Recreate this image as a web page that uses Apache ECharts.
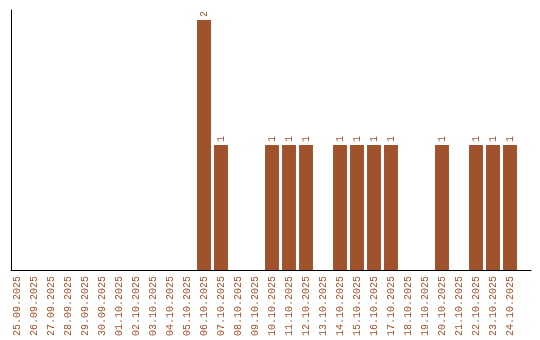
<!DOCTYPE html>
<html>
<head>
<meta charset="utf-8">
<script src="https://cdn.jsdelivr.net/npm/echarts@6/dist/echarts.min.js"></script>
<style>html,body{margin:0;padding:0;background:#fff}#c{width:540px;height:340px}</style>
</head>
<body>
<div id="c"></div>
<script>
var categories = ["25.09.2025","26.09.2025","27.09.2025","28.09.2025","29.09.2025","30.09.2025","01.10.2025","02.10.2025","03.10.2025","04.10.2025","05.10.2025","06.10.2025","07.10.2025","08.10.2025","09.10.2025","10.10.2025","11.10.2025","12.10.2025","13.10.2025","14.10.2025","15.10.2025","16.10.2025","17.10.2025","18.10.2025","19.10.2025","20.10.2025","21.10.2025","22.10.2025","23.10.2025","24.10.2025"];
var counts = [0,0,0,0,0,0,0,0,0,0,0,2,1,0,0,1,1,1,0,1,1,1,1,0,0,1,0,1,1,1];

var color = '#a0522d';
var font = 'Liberation Mono';
var chart = echarts.init(document.getElementById('c'), null, {renderer: 'canvas'});
chart.setOption({
  animation: false,
  grid: [
    {left: 8.5, width: 510, top: 10, bottom: 70},
    {left: 11, right: 9, top: 10, bottom: 70}
  ],
  xAxis: [
    {type: 'category', gridIndex: 0, data: categories, boundaryGap: true,
     axisLine: {show: false}, axisTick: {show: false},
     axisLabel: {rotate: 90, interval: 0, color: color, fontFamily: font, fontSize: 10, margin: 6}},
    {type: 'value', gridIndex: 1, min: 0, max: 1,
     axisLine: {show: true, lineStyle: {color: '#000', width: 1}},
     axisTick: {show: false}, axisLabel: {show: false}, splitLine: {show: false}}
  ],
  yAxis: [
    {type: 'value', gridIndex: 0, min: 0, max: 2.08,
     axisLine: {show: false}, axisTick: {show: false}, axisLabel: {show: false}, splitLine: {show: false}},
    {type: 'value', gridIndex: 1, min: 0, max: 1,
     axisLine: {show: true, lineStyle: {color: '#000', width: 1}},
     axisTick: {show: false}, axisLabel: {show: false}, splitLine: {show: false}}
  ],
  series: [{
    type: 'bar', xAxisIndex: 0, yAxisIndex: 0,
    data: counts.map(function(v){ return v === 0 ? null : v; }),
    barCategoryGap: '18%',
    itemStyle: {color: color},
    label: {show: true, position: 'top', rotate: 90, align: 'left', verticalAlign: 'middle', distance: 3,
            color: color, fontFamily: font, fontSize: 10}
  }]
});
</script>
</body>
</html>
